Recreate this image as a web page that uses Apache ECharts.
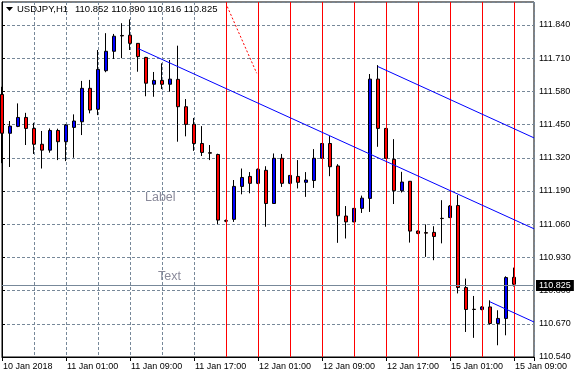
<!DOCTYPE html>
<html><head><meta charset="utf-8">
<script src="https://cdn.jsdelivr.net/npm/echarts@6/dist/echarts.min.js"></script>
<style>html,body{margin:0;padding:0;background:#fff}#c{width:575px;height:378px}</style>
</head><body><div id="c"></div>
<script>
// ---- data ----
const symbolTitle = 'USDJPY,H1';
const lastQuote = '110.852 110.890 110.816 110.825';
// hourly candles, 10 Jan 2018 17:00 ... 15 Jan 2018 09:00 ; label every 8 candles
const tickLabels = ['10 Jan 2018','11 Jan 01:00','11 Jan 09:00','11 Jan 17:00','12 Jan 01:00','12 Jan 09:00','12 Jan 17:00','15 Jan 01:00','15 Jan 09:00'];
const open = [111.568,111.416,111.443,111.478,111.435,111.373,111.350,111.427,111.383,111.439,
111.461,111.592,111.510,111.661,111.737,111.799,111.800,111.768,111.713,111.608,
111.623,111.608,111.627,111.520,111.451,111.376,111.340,111.333,111.074,111.079,
111.208,111.247,111.220,111.271,111.141,111.318,111.220,111.247,111.224,111.231,
111.318,111.376,111.288,111.092,111.069,111.122,111.161,111.628,111.435,111.314,
111.191,111.228,111.033,111.027,111.028,111.083,111.086,111.133,110.812,110.727,
110.726,110.736,110.671,110.691,110.852];
const close = [111.416,111.444,111.478,111.435,111.373,111.350,111.427,111.383,111.448,111.464,
111.592,111.507,111.666,111.737,111.796,111.797,111.768,111.716,111.612,111.623,
111.608,111.628,111.520,111.451,111.376,111.341,111.338,111.076,111.072,111.208,
111.243,111.220,111.275,111.141,111.318,111.220,111.251,111.224,111.233,111.318,
111.376,111.285,111.093,111.069,111.122,111.162,111.628,111.435,111.318,111.191,
111.225,111.033,111.024,111.025,111.012,111.082,111.131,110.812,110.726,110.726,
110.736,110.671,110.691,110.851,110.825];
const high = [111.598,111.464,111.533,111.496,111.457,111.425,111.435,111.434,111.452,111.490,
111.621,111.625,111.742,111.808,111.805,111.847,111.862,111.769,111.715,111.656,
111.690,111.703,111.759,111.550,111.476,111.444,111.370,111.336,111.078,111.233,
111.278,111.264,111.278,111.287,111.337,111.335,111.252,111.311,111.264,111.354,
111.378,111.405,111.295,111.131,111.123,111.172,111.648,111.683,111.436,111.393,
111.265,111.229,111.035,111.059,111.052,111.154,111.135,111.174,110.847,110.779,
110.739,110.762,110.723,110.856,110.890];
const low = [111.299,111.284,111.440,111.370,111.335,111.278,111.340,111.311,111.307,111.320,
111.409,111.494,111.487,111.655,111.707,111.710,111.742,111.657,111.561,111.559,
111.589,111.579,111.383,111.404,111.347,111.327,111.311,111.060,111.068,111.069,
111.177,111.181,111.217,111.050,111.140,111.206,111.217,111.200,111.167,111.202,
111.317,111.248,110.987,111.004,111.068,111.104,111.108,111.363,111.317,111.139,
111.184,110.988,111.021,110.932,110.919,110.985,111.084,110.789,110.638,110.615,
110.723,110.667,110.586,110.625,110.816];
const bidPrice = 110.825;
const priceBase = 110.54, priceStep = 0.13, priceTop = 111.93;
const redLineCandles = [28,32,36,40,44,48,52,56,60,64];
const trendLines = [
  [[17, 111.748], [66.5, 111.042]],
  [[47, 111.677], [66.5, 111.398]],
  [[61, 110.756], [66.5, 110.677]]
];
const dotLine = [[28.16, 111.912], [31.84, 111.651]];

// ---- chart ----
const FONT = 'Liberation Sans';
const candles = open.map((o, i) => [i, o - priceBase, close[i] - priceBase, low[i] - priceBase, high[i] - priceBase]);
const grey = '#778899';
const mlData = [];
redLineCandles.forEach(i => mlData.push({xAxis: i, lineStyle: {color: '#ff0000', width: 1, type: 'solid'}}));
trendLines.forEach(l => {
  const ls = {color: '#0000ff', width: 1, type: 'solid'};
  mlData.push([{coord: [l[0][0], l[0][1] - priceBase], lineStyle: ls}, {coord: [l[1][0], l[1][1] - priceBase], lineStyle: ls}]);
});
{
  const ls = {color: '#ff0000', width: 1, type: [2, 2]};
  mlData.push([{coord: [dotLine[0][0], dotLine[0][1] - priceBase], lineStyle: ls}, {coord: [dotLine[1][0], dotLine[1][1] - priceBase], lineStyle: ls}]);
}
mlData.push({yAxis: bidPrice - priceBase, lineStyle: {color: grey, width: 1, type: 'solid'},
  label: {show: true, position: 'end', distance: 2, formatter: bidPrice.toFixed(3), color: '#fff', backgroundColor: '#000',
    fontFamily: FONT, fontSize: 9, lineHeight: 10, padding: [1, 3, 0, 3]}});

const chart = echarts.init(document.getElementById('c'), null, {renderer: 'canvas'});
chart.setOption({
  animation: false,
  backgroundColor: '#fff',
  grid: {left: 2, top: 2, right: 41, bottom: 21, show: true, borderColor: '#000', borderWidth: 1, backgroundColor: '#fff'},
  xAxis: [{
    type: 'value', min: 0, max: 66.5, interval: 8, position: 'bottom',
    axisLine: {show: true, lineStyle: {color: '#000'}},
    axisTick: {show: true, length: 4, lineStyle: {color: '#000'}},
    axisLabel: {align: 'left', margin: 5, color: '#000', fontFamily: FONT, fontSize: 9, padding: [0, 0, 0, 1],
      formatter: v => (v % 8 === 0 && tickLabels[v / 8]) || ''},
    splitLine: {show: false}
  }, {
    type: 'value', min: 0, max: 66.5, interval: 4, position: 'top',
    axisLine: {show: false}, axisTick: {show: false}, axisLabel: {show: false},
    splitLine: {show: true, lineStyle: {color: grey, width: 1, type: [3, 2]}}
  }],
  yAxis: {
    type: 'value', position: 'right', min: 0, max: priceTop - priceBase, interval: priceStep,
    axisLine: {show: true, lineStyle: {color: '#000'}},
    axisTick: {show: true, length: 3, lineStyle: {color: '#000'}},
    axisLabel: {margin: 5, color: '#000', fontFamily: FONT, fontSize: 9, showMaxLabel: false,
      formatter: v => (priceBase + v).toFixed(3)},
    splitLine: {show: true, lineStyle: {color: grey, width: 1, type: [3, 2]}}
  },
  series: [{
    type: 'candlestick', xAxisIndex: 0, yAxisIndex: 0,
    data: candles, encode: {x: 0, y: [1, 2, 3, 4]},
    clip: false, barWidth: 4,
    itemStyle: {color: '#0000ff', color0: '#ff0000', borderColor: '#000', borderColor0: '#000', borderColorDoji: '#000', borderWidth: 1},
    markLine: {silent: true, symbol: ['none', 'none'], animation: false, label: {show: false}, data: mlData}
  }],
  graphic: [
    {type: 'polygon', shape: {points: [[6, 7], [13, 7], [9.5, 11]]}, style: {fill: '#000'}},
    {type: 'text', x: 17, y: 9, style: {text: symbolTitle, font: '9.5px "Liberation Sans"', fill: '#000', verticalAlign: 'middle'}},
    {type: 'text', x: 75, y: 9, style: {text: lastQuote, font: '9.5px "Liberation Sans"', fill: '#000', verticalAlign: 'middle'}},
    {type: 'text', x: 145, y: 198, style: {text: 'Label', font: '12.5px "Liberation Sans"', fill: '#8a8a9a', verticalAlign: 'middle'}},
    {type: 'text', x: 158, y: 277, style: {text: 'Text', font: '12.5px "Liberation Sans"', fill: '#8a8a9a', verticalAlign: 'middle'}}
  ]
});
</script></body></html>
